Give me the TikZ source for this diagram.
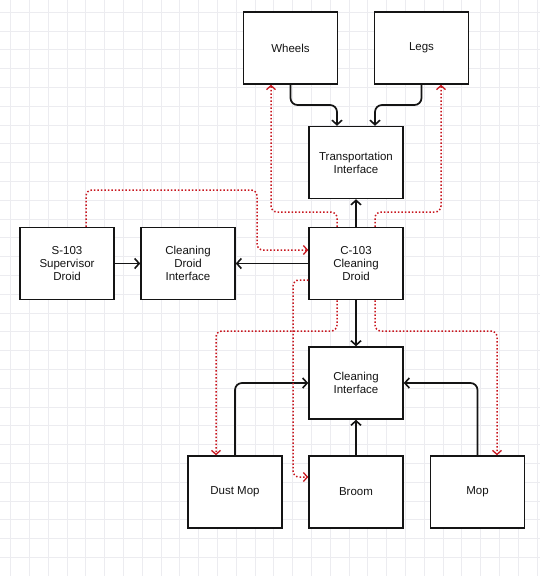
\documentclass[tikz,border=0pt]{standalone}
\usepackage{fontspec}
\setmainfont{Liberation Sans}
\usetikzlibrary{arrows.meta,calc}
\definecolor{gridc}{RGB}{236,236,240}
\definecolor{redc}{RGB}{200,22,30}
\definecolor{inkc}{RGB}{20,20,20}
\begin{document}
\begin{tikzpicture}[x=1pt,y=-1pt,
  box/.style={draw=inkc,line width=1.5pt,fill=white,minimum width=94pt,minimum height=72pt,
    inner sep=0pt,align=center,font=\fontsize{11.5}{13}\selectfont,text=inkc},
  blk/.style={draw=inkc,line width=1.7pt,rounded corners=7pt,-{Straight Barb[length=4.5pt,width=10pt,line width=1.6pt]}},
  rdot/.style={draw=redc,line width=1.5pt,dotted,rounded corners=6pt,-{Straight Barb[length=4pt,width=9pt,line width=1.3pt]}},
  gridline/.style={draw=gridc,line width=0.6pt}]
\useasboundingbox (0,0) rectangle (540,576);
\fill[white] (0,0) rectangle (540,576);
\foreach \i in {0,...,28} \draw[gridline] ({10.5+18.8*\i},0) -- ({10.5+18.8*\i},576);
\foreach \j in {0,...,30} \draw[gridline] (0,{12+18.8*\j}) -- (540,{12+18.8*\j});

\node[box] (Wheels) at (290.5,48) {Wheels};
\node[box] (Legs) at (421.5,48) {Legs};
\node[box] (Trans) at (356,162.5) {Transportation\\Interface};
\node[box] (S103) at (67,263.5) {S-103\\Supervisor\\Droid};
\node[box] (CDI) at (188,263.5) {Cleaning\\Droid\\Interface};
\node[box] (C103) at (356,263.5) {C-103\\Cleaning\\Droid};
\node[box] (CI) at (356,383) {Cleaning\\Interface};
\node[box] (DustMop) at (235,492) {Dust Mop};
\node[box] (Broom) at (356,492) {Broom};
\node[box] (Mop) at (477.5,492) {Mop};

% black connectors
\draw[blk] (Wheels.south) |- (314,105) -| ($(Trans.north)+(-19,0)$);
\draw[blk] (Legs.south) |- (398,105) -| ($(Trans.north)+(19,0)$);
\draw[blk] (C103.north) -- (Trans.south);
\draw[blk] (C103.west) -- (CDI.east);
\draw[blk] (S103.east) -- (CDI.west);
\draw[blk] (C103.south) -- (CI.north);
\draw[blk] (Broom.north) -- (CI.south);
\draw[blk] (DustMop.north) |- (CI.west);
\draw[blk] (Mop.north) |- (CI.east);

% red dotted connectors
\draw[rdot] ($(S103.north)+(19,0)$) |- (257,190) |- ($(C103.west)+(0,-13.5)$);
\draw[rdot] ($(C103.north)+(-19,0)$) |- (271,212) -- ($(Wheels.south)+(-19.5,0)$);
\draw[rdot] ($(C103.north)+(19,0)$) |- (441,212) -- ($(Legs.south)+(19.5,0)$);
\draw[rdot] ($(C103.west)+(0,16.5)$) -| (293,477) -- ($(Broom.west)+(0,-15)$);
\draw[rdot] ($(C103.south)+(-19,0)$) |- (216,331) -- ($(DustMop.north)+(-19,0)$);
\draw[rdot] ($(C103.south)+(19,0)$) |- (497,331) -- ($(Mop.north)+(19.5,0)$);
\end{tikzpicture}
\end{document}
